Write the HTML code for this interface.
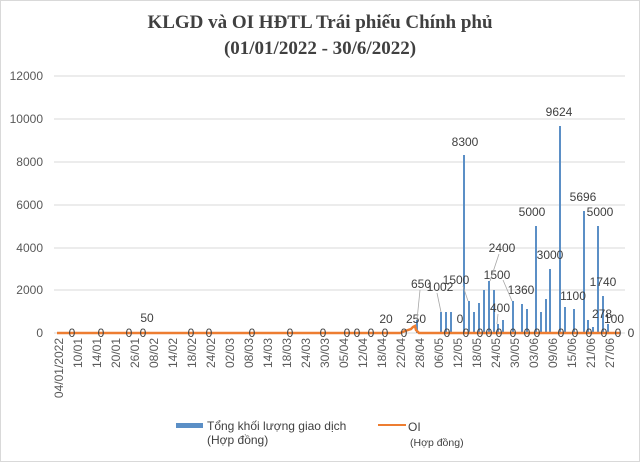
<!DOCTYPE html>
<html><head><meta charset="utf-8"><style>
html,body{margin:0;padding:0;background:#fff;}
svg{display:block;font-family:"Liberation Sans",sans-serif;}
</style></head><body>
<svg width="640" height="462" viewBox="0 0 640 462" xmlns="http://www.w3.org/2000/svg">
<rect x="0.5" y="0.5" width="639" height="461" fill="#fff" stroke="#d9d9d9"/>
<g font-family="Liberation Serif,serif" font-weight="bold" font-size="19" fill="#404040" text-anchor="middle">
<text x="320" y="28">KLGD và OI HĐTL Trái phiếu Chính phủ</text>
<text x="320" y="54">(01/01/2022 - 30/6/2022)</text>
</g>
<g stroke="#d9d9d9" stroke-width="1">
<line x1="54" x2="625" y1="76" y2="76"/><line x1="54" x2="625" y1="119" y2="119"/>
<line x1="54" x2="625" y1="162" y2="162"/><line x1="54" x2="625" y1="205" y2="205"/>
<line x1="54" x2="625" y1="248" y2="248"/><line x1="54" x2="625" y1="290" y2="290"/>
<line x1="54" x2="625" y1="333" y2="333"/>
</g>
<g font-size="12" fill="#595959" text-anchor="end">
<text x="43" y="80">12000</text><text x="43" y="123">10000</text><text x="43" y="166">8000</text>
<text x="43" y="209">6000</text><text x="43" y="252">4000</text><text x="43" y="294">2000</text><text x="43" y="337">0</text>
</g>
<g fill="#5b8fc6">
<rect x="416" y="320" width="2" height="13"/>
<rect x="440" y="312" width="2" height="21"/><rect x="445" y="312" width="2" height="21"/><rect x="450" y="312" width="2" height="21"/>
<rect x="463" y="155" width="2" height="178"/><rect x="468" y="301" width="2" height="32"/><rect x="473" y="312" width="2" height="21"/>
<rect x="478" y="303" width="2" height="30"/><rect x="483" y="290" width="2" height="43"/><rect x="488" y="281" width="2" height="52"/>
<rect x="493" y="290" width="2" height="43"/><rect x="497" y="324" width="2" height="9"/><rect x="502" y="320" width="2" height="13"/>
<rect x="512" y="301" width="2" height="32"/><rect x="521" y="304" width="2" height="29"/><rect x="526" y="309" width="2" height="24"/>
<rect x="535" y="226" width="2" height="107"/><rect x="540" y="312" width="2" height="21"/><rect x="545" y="299" width="2" height="34"/>
<rect x="549" y="269" width="2" height="64"/><rect x="559" y="126" width="2" height="207"/><rect x="564" y="307" width="2" height="26"/>
<rect x="573" y="309" width="2" height="24"/><rect x="583" y="211" width="2" height="122"/><rect x="587" y="320" width="2" height="13"/>
<rect x="592" y="327" width="2" height="6"/><rect x="597" y="226" width="2" height="107"/><rect x="602" y="296" width="2" height="37"/>
<rect x="607" y="324" width="2" height="9"/>
</g>
<polyline fill="none" stroke="#ed7d31" stroke-width="2.5" points="57,333 400,333 405,331 411,329 413,327 415,326 416,330 419,333 620,333"/>
<g font-size="12" fill="#404040" text-anchor="middle">
<text x="72" y="337">0</text><text x="101" y="337">0</text><text x="129" y="337">0</text><text x="143" y="337">0</text>
<text x="191" y="337">0</text><text x="209" y="337">0</text><text x="252" y="337">0</text><text x="290" y="337">0</text>
<text x="323" y="337">0</text><text x="347" y="337">0</text><text x="357" y="337">0</text><text x="371" y="337">0</text>
<text x="385" y="337">0</text><text x="404" y="337">0</text><text x="447" y="337">0</text><text x="466" y="337">0</text>
<text x="480" y="337">0</text><text x="489" y="337">0</text><text x="499" y="337">0</text><text x="513" y="337">0</text>
<text x="527" y="337">0</text><text x="537" y="337">0</text><text x="561" y="337">0</text><text x="575" y="337">0</text>
<text x="589" y="337">0</text><text x="604" y="337">0</text><text x="618" y="337">0</text><text x="631" y="337">0</text>
<text x="460" y="323">0</text>
<text x="147" y="322">50</text><text x="386" y="323">20</text><text x="416" y="323">250</text>
<text x="421" y="288">650</text><text x="440" y="291">1002</text><text x="456" y="284">1500</text>
<text x="465" y="146">8300</text><text x="502" y="252">2400</text><text x="497" y="279">1500</text>
<text x="500" y="312">400</text><text x="521" y="294">1360</text><text x="532" y="216">5000</text>
<text x="550" y="259">3000</text><text x="559" y="116">9624</text><text x="573" y="300">1100</text>
<text x="583" y="201">5696</text><text x="600" y="216">5000</text><text x="602" y="318">278</text>
<text x="603" y="286">1740</text><text x="614" y="323">100</text>
</g>
<g stroke="#a6a6a6" stroke-width="0.8" fill="none">
<line x1="420" y1="290" x2="417" y2="320"/><line x1="437" y1="293" x2="441" y2="312"/>
<line x1="463" y1="286" x2="468" y2="301"/><line x1="499" y1="254" x2="490" y2="281"/>
<line x1="503" y1="280" x2="512" y2="301"/><line x1="498" y1="314" x2="497" y2="324"/>
</g>
<g font-size="12" fill="#595959" text-anchor="end">
<text transform="translate(63,338) rotate(-90)">04/01/2022</text>
<text transform="translate(82,338) rotate(-90)">10/01</text>
<text transform="translate(101,338) rotate(-90)">14/01</text>
<text transform="translate(120,338) rotate(-90)">20/01</text>
<text transform="translate(139,338) rotate(-90)">26/01</text>
<text transform="translate(158,338) rotate(-90)">08/02</text>
<text transform="translate(177,338) rotate(-90)">14/02</text>
<text transform="translate(196,338) rotate(-90)">18/02</text>
<text transform="translate(215,338) rotate(-90)">24/02</text>
<text transform="translate(234,338) rotate(-90)">02/03</text>
<text transform="translate(253,338) rotate(-90)">08/03</text>
<text transform="translate(272,338) rotate(-90)">14/03</text>
<text transform="translate(291,338) rotate(-90)">18/03</text>
<text transform="translate(310,338) rotate(-90)">24/03</text>
<text transform="translate(329,338) rotate(-90)">30/03</text>
<text transform="translate(348,338) rotate(-90)">05/04</text>
<text transform="translate(367,338) rotate(-90)">12/04</text>
<text transform="translate(386,338) rotate(-90)">18/04</text>
<text transform="translate(405,338) rotate(-90)">22/04</text>
<text transform="translate(424,338) rotate(-90)">28/04</text>
<text transform="translate(443,338) rotate(-90)">06/05</text>
<text transform="translate(462,338) rotate(-90)">12/05</text>
<text transform="translate(481,338) rotate(-90)">18/05</text>
<text transform="translate(500,338) rotate(-90)">24/05</text>
<text transform="translate(519,338) rotate(-90)">30/05</text>
<text transform="translate(538,338) rotate(-90)">03/06</text>
<text transform="translate(557,338) rotate(-90)">09/06</text>
<text transform="translate(576,338) rotate(-90)">15/06</text>
<text transform="translate(595,338) rotate(-90)">21/06</text>
<text transform="translate(614,338) rotate(-90)">27/06</text>
</g>
<rect x="176" y="423" width="27" height="5" fill="#5b8fc6"/>
<g font-size="12" fill="#404040">
<text x="207" y="430">Tổng khối lượng giao dịch</text>
<text x="207" y="444">(Hợp đồng)</text>
<text x="408" y="431">OI</text>
<text x="410" y="446" font-size="10.5">(Hợp đồng)</text>
</g>
<line x1="378" y1="425" x2="406" y2="425" stroke="#ed7d31" stroke-width="2"/>
</svg>
</body></html>
